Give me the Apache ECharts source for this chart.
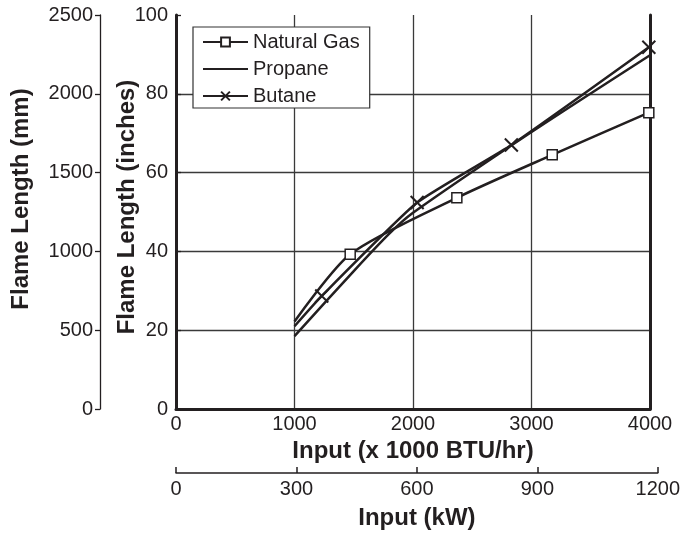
<!DOCTYPE html>
<html>
<head>
<meta charset="utf-8">
<script src="https://cdn.jsdelivr.net/npm/echarts@6/dist/echarts.min.js"></script>
<style>
  html, body { margin: 0; padding: 0; background: #fff; }
  #chart { width: 683px; height: 533px; }
</style>
</head>
<body>
<div id="chart"></div>
<script>
// values (x in 1000 BTU/hr, y in inches)
const ngX = [1000, 1470, 2370, 3175, 3990];
const ngY = [22.2, 39.3, 53.6, 64.5, 75.2];
const propaneX = [1000, 1500, 1800, 2000, 3000, 4000];
const propaneY = [18.5, 35, 44.5, 49.8, 70.3, 89.8];
const butaneX = [1000, 1230, 2035, 2830, 3990];
const butaneY = [21, 28.7, 52.4, 67, 91.8];

const ink = '#231f20';
const font = '"Liberation Sans", Arial, sans-serif';
const plain = v => String(v); // no thousands separators

// first point of the measured series has no marker
const toPoints = (xs, ys) => xs.map((x, i) => i === 0
  ? { value: [x, ys[i]], symbol: 'none' }
  : { value: [x, ys[i]] });

const xMark = 'path://M0,0L10,10M10,0L0,10';
const titleStyle = { fontSize: 24, fontWeight: 'bold', color: ink };

const chart = echarts.init(document.getElementById('chart'));

const option = {
  animation: false,
  textStyle: { fontFamily: font, color: ink },
  grid: [
    { left: 176, right: 33, top: 15, bottom: 124 },
    { left: 176, right: 24, top: 463, height: 10 }
  ],
  legend: {
    data: [
      { name: 'Natural Gas' },
      { name: 'Propane', itemStyle: { opacity: 0 } },
      { name: 'Butane' }
    ],
    orient: 'vertical',
    left: 193,
    top: 27,
    backgroundColor: '#fff',
    borderColor: '#333',
    borderWidth: 1.2,
    borderRadius: 0,
    padding: [5, 10, 2, 9],
    itemGap: 7,
    itemWidth: 45,
    itemHeight: 11,
    textStyle: { fontSize: 20, color: ink, fontFamily: font }
  },
  xAxis: [
    {
      type: 'value',
      gridIndex: 0,
      min: 0,
      max: 4000,
      interval: 1000,
      name: 'Input (x 1000 BTU/hr)',
      nameLocation: 'middle',
      nameGap: 30,
      nameMoveOverlap: false,
      nameTextStyle: titleStyle,
      axisLine: { lineStyle: { color: ink, width: 3 } },
      axisTick: { show: false },
      axisLabel: { fontSize: 20, color: ink, margin: 5, formatter: plain },
      splitLine: { show: true, lineStyle: { color: '#3a3a3a', width: 1.3 } }
    },
    {
      type: 'value',
      gridIndex: 1,
      min: 0,
      max: 1200,
      interval: 300,
      position: 'bottom',
      name: 'Input (kW)',
      nameLocation: 'middle',
      nameGap: 33,
      nameMoveOverlap: false,
      nameTextStyle: titleStyle,
      axisLine: { lineStyle: { color: ink, width: 1.5 } },
      axisTick: { inside: true, length: 6, lineStyle: { color: ink, width: 1.5 } },
      axisLabel: { fontSize: 20, color: ink, margin: 6, formatter: plain },
      splitLine: { show: false }
    }
  ],
  yAxis: [
    {
      type: 'value',
      gridIndex: 0,
      position: 'left',
      min: 0,
      max: 100,
      interval: 20,
      name: 'Flame Length (inches)',
      nameLocation: 'middle',
      nameGap: 37,
      nameMoveOverlap: false,
      nameTextStyle: Object.assign({ padding: [0, 0, 0, 10] }, titleStyle),
      axisLine: { show: true, lineStyle: { color: ink, width: 3 } },
      axisTick: { show: true, inside: true, length: 5, lineStyle: { color: ink, width: 1.3 } },
      axisLabel: { fontSize: 20, color: ink, margin: 8, formatter: plain },
      splitLine: { show: true, showMaxLine: false, lineStyle: { color: '#3a3a3a', width: 1.3 } }
    },
    {
      type: 'value',
      gridIndex: 0,
      position: 'left',
      offset: 76,
      min: 0,
      max: 2500,
      interval: 500,
      name: 'Flame Length (mm)',
      nameLocation: 'middle',
      nameGap: 67,
      nameMoveOverlap: false,
      nameTextStyle: Object.assign({ padding: [0, 0, 0, 26] }, titleStyle),
      axisLine: { show: true, lineStyle: { color: ink, width: 1.3 } },
      axisTick: { show: true, length: 5, lineStyle: { color: ink, width: 1.3 } },
      axisLabel: { fontSize: 20, color: ink, margin: 7, formatter: plain },
      splitLine: { show: false }
    },
    {
      // right border of the plot
      type: 'value',
      gridIndex: 0,
      position: 'right',
      min: 0,
      max: 100,
      axisLine: { show: true, lineStyle: { color: ink, width: 3 } },
      axisTick: { show: false },
      axisLabel: { show: false },
      splitLine: { show: false }
    },
    { type: 'value', gridIndex: 1, show: false, min: 0, max: 1 }
  ],
  series: [
    {
      name: 'Natural Gas',
      type: 'line',
      xAxisIndex: 0,
      yAxisIndex: 0,
      data: toPoints(ngX, ngY),
      smooth: 0.25,
      symbol: 'rect',
      symbolSize: 10,
      lineStyle: { color: ink, width: 2.5 },
      itemStyle: { color: '#fff', borderColor: ink, borderWidth: 1.5 }
    },
    {
      name: 'Propane',
      type: 'line',
      xAxisIndex: 0,
      yAxisIndex: 0,
      data: toPoints(propaneX, propaneY),
      smooth: 0.25,
      showSymbol: false,
      symbol: 'none',
      lineStyle: { color: ink, width: 2.5 },
      itemStyle: { color: ink }
    },
    {
      name: 'Butane',
      type: 'line',
      xAxisIndex: 0,
      yAxisIndex: 0,
      data: toPoints(butaneX, butaneY),
      smooth: 0.15,
      symbol: xMark,
      symbolSize: 13,
      lineStyle: { color: ink, width: 2.5 },
      itemStyle: { color: '#fff', borderColor: ink, borderWidth: 2 }
    }
  ]
};

chart.setOption(option);
</script>
</body>
</html>
